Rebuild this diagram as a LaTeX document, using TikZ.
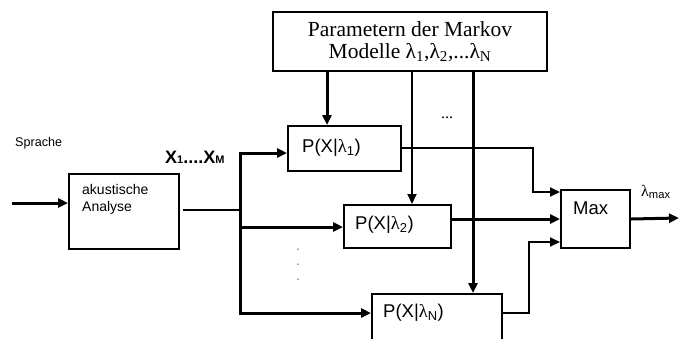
\documentclass[tikz,border=0pt]{standalone}
\usepackage{fontspec}
\setmainfont{Liberation Serif}
\setsansfont{Liberation Sans}
\usetikzlibrary{arrows.meta}
\newcommand{\lam}{{\rmfamily λ}}
\begin{document}
\begin{tikzpicture}[x=1pt,y=-1pt,
  box/.style={draw, line width=2pt, inner sep=0pt, anchor=north west},
  thk/.style={line width=3pt},
  thn/.style={line width=1.8pt},
  arr/.style={-{Triangle[length=10pt,width=9pt]}},
  ptext/.style={font=\sffamily\fontsize{18.5}{20}\selectfont, anchor=west, inner sep=0pt},
  lbl/.style={inner sep=0pt, anchor=west}
  ]
\useasboundingbox (0,0) rectangle (679,338);

% boxes
\node[draw, line width=2pt, minimum width=274pt, minimum height=59pt, align=center,
      font=\fontsize{21.5}{22}\selectfont] (par) at (410,41.5)
      {Parametern der Markov\\Modelle λ\textsubscript{1},λ\textsubscript{2},...λ\textsubscript{N}};
\node[box, minimum width=110pt, minimum height=75pt] (ana) at (68,173) {};
\node[inner sep=0pt, anchor=north west, align=left,
      font=\sffamily\fontsize{14}{17}\selectfont] (anat) at (82,184) {akustische\\Analyse};
\node[box, minimum width=113pt, minimum height=45pt] (p1) at (287,125) {};
\node[ptext] (p1t) at (302,148) {P(X|\lam\textsubscript{1})};
\node[box, minimum width=107pt, minimum height=43pt] (p2) at (343,204) {};
\node[ptext] (p2t) at (355,225) {P(X|\lam\textsubscript{2})};
\node[box, minimum width=130pt, minimum height=60pt] (pn) at (371,293) {};
\node[ptext] (pnt) at (383,313) {P(X|\lam\textsubscript{N})};
\node[box, minimum width=69pt, minimum height=58pt] (max) at (560,189) {};
\node[ptext] (maxt) at (573,208) {Max};

% labels
\node[lbl, font=\sffamily\fontsize{12.6}{14}\selectfont] (spr) at (15,143) {Sprache};
\node[lbl, font=\sffamily\bfseries\fontsize{18}{20}\selectfont] (xs) at (165,157)
      {X{\fontsize{11}{12}\selectfont 1}....X{\fontsize{11}{12}\selectfont M}};
\node[lbl, font=\sffamily\fontsize{16}{18}\selectfont] (lmax) at (641,192) {\lam\textsubscript{max}};
\node[font=\fontsize{16}{18}\selectfont, inner sep=0pt] (hdots) at (447,118) {...};
\node[font=\sffamily\fontsize{14}{16}\selectfont, text=gray, inner sep=0pt] (d1) at (298,250) {.};
\node[font=\sffamily\fontsize{14}{16}\selectfont, text=gray, inner sep=0pt] (d2) at (298,265) {.};
\node[font=\sffamily\fontsize{14}{16}\selectfont, text=gray, inner sep=0pt] (d3) at (298,280) {.};

% coordinates
\coordinate (in) at (12,203);
\coordinate (aout) at (183,210);
\coordinate (br) at (240,210);
\coordinate (btop) at (240,153);
\coordinate (bmid) at (240,227);
\coordinate (bbot) at (240,313);
\coordinate (c1) at (327,0);
\coordinate (c2) at (412,0);
\coordinate (c3) at (473,0);
\coordinate (k1) at (533,192);
\coordinate (k3) at (529,242);
\coordinate (out) at (679,218);

% connectors
\draw[thk,arr] (in) -- (in -| ana.west);
\draw[thn] (aout) -- (br);
\draw[thk,arr] (bmid) -- (btop) -- (btop -| p1.west);
\draw[thk,arr] (bmid) -- (bmid -| p2.west);
\draw[thk,arr] (bmid) -- (bbot) -- (bbot -| pn.west);

\draw[thk,arr] (c1 |- par.south) -- (c1 |- p1.north);
\draw[thn,arr] (c2 |- par.south) -- (c2 |- p2.north);
\draw[thk,arr] (c3 |- par.south) -- (c3 |- pn.north);

\draw[thn,arr] (p1.east |- p1t) -| (k1) -- (k1 -| max.west);
\draw[thk,arr] (max.west -| p2.east) -- (max.west);
\draw[thn,arr] (pn.east |- pnt) -| (k3) -- (k3 -| max.west);
\draw[thk,arr] (max.east) -- (out);
\end{tikzpicture}
\end{document}
